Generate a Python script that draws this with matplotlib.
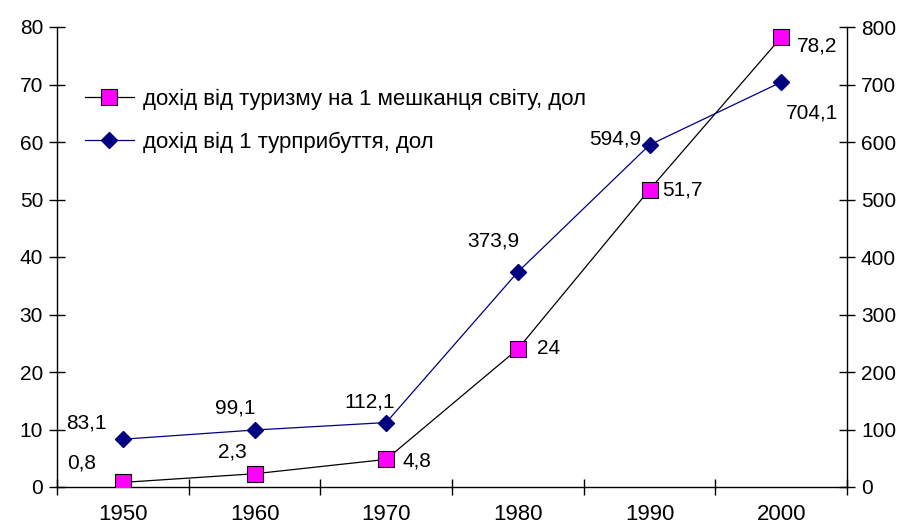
import matplotlib
matplotlib.use("Agg")
import matplotlib.pyplot as plt

years = ["1950", "1960", "1970", "1980", "1990", "2000"]
per_resident = [0.8, 2.3, 4.8, 24, 51.7, 78.2]
per_arrival = [83.1, 99.1, 112.1, 373.9, 594.9, 704.1]
per_resident_labels = ["0,8", "2,3", "4,8", "24", "51,7", "78,2"]
per_arrival_labels = ["83,1", "99,1", "112,1", "373,9", "594,9", "704,1"]

plt.rcParams['font.family'] = ['Liberation Sans', 'DejaVu Sans']

fig = plt.figure(figsize=(9.08, 5.31), dpi=100)
ax = fig.add_axes([57/908, 44/531, 790/908, 460/531])
ax2 = ax.twinx()

x = list(range(len(years)))

l1, = ax.plot(x, per_resident, color='black', lw=0.9, marker='s', markersize=11,
              markerfacecolor='#FF00FF', markeredgecolor='black', markeredgewidth=0.8,
              label='дохід від туризму на 1 мешканця світу, дол', zorder=3)
l2, = ax2.plot(x, per_arrival, color='#000080', lw=0.9, marker='D', markersize=8,
               markerfacecolor='#000080', markeredgecolor='#000080',
               label='дохід від 1 турприбуття, дол', zorder=3)

# data labels (offsets in points)
off1 = [(-30, 14), (-16, 16), (22, -1), (22, 0), (24, 0), (26, -6)]
for xi, v, t, o in zip(x, per_resident, per_resident_labels, off1):
    ax.annotate(t, (xi, v), xytext=o, textcoords='offset points',
                ha='center', va='center', fontsize=15)
off2 = [(-26, 12), (-14, 16), (-12, 15), (-18, 22), (-25, 4), (22, -22)]
for xi, v, t, o in zip(x, per_arrival, per_arrival_labels, off2):
    ax2.annotate(t, (xi, v), xytext=o, textcoords='offset points',
                 ha='center', va='center', fontsize=15)

ax.set_xlim(-0.5, 5.5)
ax.set_ylim(0, 80)
ax2.set_ylim(0, 800)
ax.set_yticks(range(0, 81, 10))
ax2.set_yticks(range(0, 801, 100))

# categories centred, ticks between them
ax.set_xticks([i + 0.5 for i in range(-1, 6)])
ax.set_xticklabels([])
ax.set_xticks(x, minor=True)
ax.set_xticklabels(years, minor=True, fontsize=16)
ax.tick_params(axis='x', which='minor', length=0, pad=12)
ax.tick_params(axis='x', which='major', direction='inout', length=12, width=1)
ax.tick_params(axis='y', direction='inout', length=12, width=1, labelsize=15, pad=4)
ax2.tick_params(axis='y', direction='inout', length=12, width=1, labelsize=15, pad=4)

for a in (ax, ax2):
    a.spines['top'].set_visible(False)
    for s in ('left', 'right', 'bottom'):
        a.spines[s].set_linewidth(1)
ax.spines['right'].set_visible(False)
ax2.spines['left'].set_visible(False)
ax2.spines['bottom'].set_visible(False)

ax.legend(handles=[l1, l2], loc='upper left', bbox_to_anchor=(0.01, 0.91),
          frameon=False, fontsize=16, handlelength=2.2, labelspacing=1.0,
          handletextpad=0.4)

fig.savefig('out.png', dpi=100)
